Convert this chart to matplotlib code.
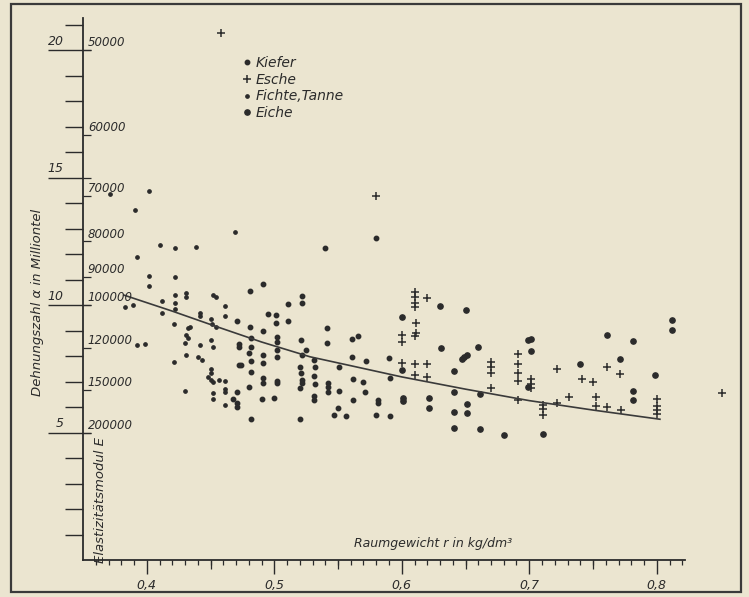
import matplotlib.pyplot as plt
from matplotlib.lines import Line2D
from matplotlib.patches import Rectangle
from matplotlib.ticker import FixedLocator, NullFormatter

# values: Raumgewicht r (kg/dm3) vs. Dehnungszahl alpha (1e-6)
FICHTE_X = [0.371, 0.402, 0.391, 0.410, 0.422, 0.439, 0.469, 0.392, 0.402, 0.402, 0.422, 0.412,
            0.422, 0.422, 0.422, 0.431, 0.431, 0.452, 0.454, 0.461, 0.383, 0.389, 0.412, 0.442,
            0.442, 0.461, 0.450, 0.451, 0.454, 0.421, 0.432, 0.434, 0.431, 0.432, 0.430, 0.392,
            0.399, 0.442, 0.450, 0.452, 0.431, 0.440, 0.443, 0.421, 0.450, 0.450, 0.448, 0.450,
            0.452, 0.457, 0.461, 0.461, 0.461, 0.452, 0.452, 0.461, 0.430]
FICHTE_A = [14.34, 14.47, 13.73, 12.34, 12.25, 12.26, 12.87, 11.88, 11.14, 10.75, 11.11, 10.16,
            10.38, 10.09, 9.85, 10.46, 10.30, 10.40, 10.33, 9.96, 9.92, 10.00, 9.67, 9.70,
            9.57, 9.57, 9.44, 9.25, 9.15, 9.24, 9.09, 9.15, 8.82, 8.69, 8.50, 8.42,
            8.47, 8.43, 8.63, 8.36, 8.05, 7.97, 7.84, 7.75, 7.48, 7.32, 7.16, 7.06,
            6.98, 7.06, 7.01, 6.72, 6.59, 6.54, 6.33, 6.09, 6.63]

KIEFER_X = [0.491, 0.481, 0.471, 0.495, 0.501, 0.501, 0.511, 0.511, 0.522, 0.522, 0.481, 0.472,
            0.472, 0.482, 0.482, 0.480, 0.482, 0.482, 0.491, 0.491, 0.491, 0.502, 0.502, 0.502,
            0.502, 0.472, 0.474, 0.491, 0.491, 0.502, 0.502, 0.521, 0.522, 0.525, 0.520, 0.521,
            0.522, 0.522, 0.520, 0.471, 0.468, 0.471, 0.471, 0.480, 0.490, 0.500, 0.482, 0.520,
            0.580, 0.540, 0.541, 0.541, 0.561, 0.566, 0.561, 0.572, 0.590, 0.531, 0.532, 0.551,
            0.562, 0.570, 0.531, 0.532, 0.542, 0.542, 0.542, 0.551, 0.571, 0.591, 0.531, 0.531,
            0.562, 0.581, 0.581, 0.550, 0.547, 0.556, 0.580, 0.591]
KIEFER_A = [10.82, 10.55, 9.36, 9.65, 9.62, 9.31, 10.04, 9.36, 10.35, 10.07, 9.15, 8.47,
            8.36, 8.72, 8.36, 8.11, 7.79, 7.36, 8.98, 8.04, 7.71, 8.76, 8.55, 8.24,
            7.95, 7.64, 7.66, 7.13, 6.93, 7.03, 6.93, 8.63, 8.03, 8.24, 7.58, 7.32,
            7.06, 6.93, 6.75, 6.60, 6.33, 6.15, 6.01, 6.80, 6.30, 6.36, 5.52, 5.54,
            12.64, 12.25, 9.11, 8.50, 8.65, 8.80, 7.95, 7.82, 7.91, 7.84, 7.58, 7.56,
            7.10, 6.99, 7.22, 6.90, 6.95, 6.80, 6.58, 6.64, 6.58, 7.13, 6.44, 6.29,
            6.27, 6.27, 6.16, 5.97, 5.69, 5.66, 5.69, 5.66]

EICHE_X = [0.630, 0.650, 0.600, 0.631, 0.660, 0.647, 0.649, 0.651, 0.601, 0.601, 0.621, 0.621,
           0.641, 0.641, 0.651, 0.651, 0.661, 0.641, 0.641, 0.661, 0.680, 0.699, 0.699, 0.812,
           0.812, 0.701, 0.701, 0.761, 0.781, 0.740, 0.771, 0.781, 0.781, 0.711, 0.799, 0.600]
EICHE_A = [9.96, 9.82, 9.54, 8.33, 8.35, 7.87, 7.95, 8.04, 6.35, 6.24, 6.34, 5.95,
           6.60, 7.40, 6.12, 5.75, 6.50, 5.82, 5.16, 5.13, 4.91, 8.63, 6.80, 9.41,
           9.01, 8.68, 8.21, 8.81, 8.59, 7.69, 7.87, 6.64, 6.27, 4.93, 7.24, 7.45]

ESCHE_X = [0.458, 0.580, 0.610, 0.610, 0.610, 0.610, 0.620, 0.611, 0.600, 0.600, 0.610, 0.611,
           0.600, 0.610, 0.620, 0.610, 0.620, 0.670, 0.670, 0.670, 0.670, 0.691, 0.691, 0.691,
           0.691, 0.701, 0.701, 0.701, 0.691, 0.711, 0.711, 0.711, 0.722, 0.722, 0.731, 0.741,
           0.750, 0.761, 0.771, 0.752, 0.752, 0.761, 0.772, 0.800, 0.800, 0.800, 0.800, 0.851]
ESCHE_A = [20.67, 14.29, 10.51, 10.30, 10.09, 9.91, 10.26, 9.28, 8.82, 8.56, 8.80, 8.89,
           7.74, 7.67, 7.69, 7.25, 7.19, 7.76, 7.56, 7.32, 6.76, 8.07, 7.70, 7.32,
           7.03, 7.10, 6.90, 6.73, 6.27, 6.08, 5.91, 5.69, 7.48, 6.15, 6.38, 7.09,
           6.98, 7.57, 7.31, 6.38, 6.04, 6.00, 5.87, 6.30, 6.05, 5.88, 5.73, 6.54]

# mean curve, read at a few points
CURVE_X = [0.382, 0.42, 0.452, 0.49, 0.528, 0.56, 0.60, 0.65, 0.70, 0.75, 0.8025]
CURVE_A = [10.39, 9.76, 9.20, 8.55, 7.97, 7.62, 7.18, 6.70, 6.25, 5.88, 5.52]

X_TICKS = [0.4, 0.5, 0.6, 0.7, 0.8]
X_LABELS = ["0,4", "0,5", "0,6", "0,7", "0,8"]
A_TICKS = [5, 10, 15, 20]
E_TICKS = [50000, 60000, 70000, 80000, 90000, 100000, 120000, 150000, 200000]

BG = "#ebe5d0"
INK = "#2b2b2b"

plt.rcParams['font.family'] = ['Liberation Sans Narrow', 'DejaVu Sans']
plt.rcParams['font.style'] = 'italic'

W, H = 749, 597
fig = plt.figure(figsize=(W / 100, H / 100), dpi=100)
fig.patch.set_facecolor(BG)

# axes box in pixels: axis corner at (83, 560), 0.1 on x = 127.5 px, 1 on y = 25.5 px
ax = fig.add_axes([83 / W, 37 / H, 657 / W, 542 / H])
ax.set_facecolor("none")
ax.set_xlim(0.35, 0.35 + 657 / 1275)
ax.set_ylim(0, 542 / 25.5)

for side in ("top", "right"):
    ax.spines[side].set_visible(False)
for side in ("left", "bottom"):
    ax.spines[side].set_color(INK)
    ax.spines[side].set_linewidth(1.3)
ax.spines["bottom"].set_bounds(0.35, 0.822)

# x ticks
ax.xaxis.set_major_locator(FixedLocator(X_TICKS))
ax.set_xticklabels(X_LABELS)
ax.xaxis.set_minor_locator(FixedLocator([round(0.36 + 0.01 * i, 2) for i in range(47)]))
ax.tick_params(axis="x", which="major", length=10, width=1.0, color=INK, pad=4,
               labelsize=9, labelcolor=INK)
ax.tick_params(axis="x", which="minor", length=3.6, width=0.9, color=INK)
sec_x = ax.secondary_xaxis(0)
sec_x.set_xticks([0.45, 0.55, 0.65, 0.75])
sec_x.tick_params(length=6.5, width=0.9, color=INK, labelbottom=False)
sec_x.spines["bottom"].set_visible(False)

# y ticks
ax.yaxis.set_major_locator(FixedLocator(A_TICKS))
ax.yaxis.set_major_formatter(NullFormatter())
ax.yaxis.set_minor_locator(FixedLocator(list(range(1, 22))))
ax.tick_params(axis="y", which="major", length=25, width=1.0, color=INK)
ax.tick_params(axis="y", which="minor", length=13, width=1.0, color=INK)
sec_y = ax.secondary_yaxis(0)
sec_y.set_yticks(A_TICKS + [1e6 / e for e in E_TICKS])
sec_y.tick_params(direction="in", length=6, width=0.9, color=INK, labelleft=False)
sec_y.spines["left"].set_visible(False)

for v in A_TICKS:
    ax.annotate(str(v), xy=(0, v), xycoords=("axes fraction", "data"),
                xytext=(-14, 1.5), textcoords="offset points", ha="right", va="bottom",
                fontsize=9, color=INK)
for e in E_TICKS:
    ax.annotate(str(e), xy=(0, 1e6 / e), xycoords=("axes fraction", "data"),
                xytext=(3.5, 0.5), textcoords="offset points", ha="left", va="bottom",
                fontsize=8.5, color=INK)

# data
ax.plot(FICHTE_X, FICHTE_A, ls="none", marker="o", ms=2.4, color=INK, clip_on=False)
ax.plot(KIEFER_X, KIEFER_A, ls="none", marker="o", ms=3.2, color=INK, clip_on=False)
ax.plot(EICHE_X, EICHE_A, ls="none", marker="o", ms=3.8, color=INK, clip_on=False)
ax.plot(ESCHE_X, ESCHE_A, ls="none", marker="+", ms=5.5, mew=1.1, color=INK, clip_on=False)
ax.plot(CURVE_X, CURVE_A, color="#3a3a3a", lw=1.2)

handles = [
    Line2D([], [], ls="none", marker="o", ms=3.2, color=INK),
    Line2D([], [], ls="none", marker="+", ms=5.5, mew=1.1, color=INK),
    Line2D([], [], ls="none", marker="o", ms=2.4, color=INK),
    Line2D([], [], ls="none", marker="o", ms=3.8, color=INK),
]
leg = fig.legend(handles, ["Kiefer", "Esche", "Fichte,Tanne", "Eiche"],
                 loc="upper left", bbox_to_anchor=(235 / W, 1 - 49 / H),
                 frameon=False, handlelength=0.7, handletextpad=0.3,
                 labelspacing=0.2, borderpad=0, fontsize=10)
for t in leg.get_texts():
    t.set_color(INK)

fig.text(38 / W, 1 - 302 / H, "Dehnungszahl α in Milliontel", rotation=90,
         ha="center", va="center", fontsize=9.5, color=INK)
fig.text(101 / W, 1 - 500 / H, "Elastizitätsmodul E", rotation=90,
         ha="center", va="center", fontsize=9.5, color=INK)
fig.text(433 / W, 1 - 543 / H, "Raumgewicht r in kg/dm³",
         ha="center", va="center", fontsize=9, color=INK)

# outer frame of the printed figure
fig.patches.append(Rectangle((11 / W, 5 / H), 730 / W, 588 / H, transform=fig.transFigure,
                             fill=False, edgecolor="#3a3a3a", lw=1.6))

fig.savefig("out.png", dpi=100, facecolor=BG)
